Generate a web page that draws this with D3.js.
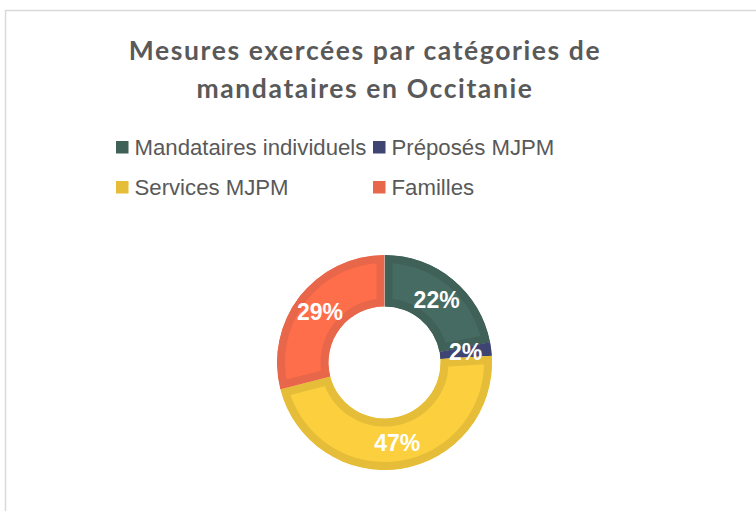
<!DOCTYPE html>
<html>
<head>
<meta charset="utf-8">
<script src="https://cdn.jsdelivr.net/npm/d3@7"></script>
<style>
  body { margin: 0; background: #fff; }
  svg { display: block; }
</style>
</head>
<body>
<div class="chart"></div>
<script>
const categories = ["Mandataires individuels", "Préposés MJPM", "Services MJPM", "Familles"]
const values = [22, 2, 47, 29]
const fillColors = ["#466b63", "#434a7a", "#fbcf3e", "#ff6e4a"]
const edgeColors = ["#3f6157", "#3f4573", "#e5bd38", "#e8674a"]
const titleLines = ["Mesures exercées par catégories de", "mandataires en Occitanie"]

const w = 756
const h = 511
const cx = 384.5
const cy = 362.5
const outerR = 107.5
const innerR = 56

const svg = d3.select(".chart").append("svg").attr("width", w).attr("height", h)

// chart frame (goes off the right and bottom edges)
svg.append("path")
  .attr("d", `M5.5,${h + 5}V10.5H${w + 5}`)
  .attr("fill", "none")
  .attr("stroke", "#d9d9d9")
  .attr("stroke-width", 1.5)

svg.append("g").selectAll("text")
  .data(titleLines)
  .enter()
  .append("text")
  .attr("x", 365)
  .attr("y", (d, i) => 60 + i * 38)
  .attr("text-anchor", "middle")
  .attr("font-family", "Lato, 'Open Sans', sans-serif")
  .attr("font-weight", "bold")
  .attr("font-size", 26.5)
  .attr("letter-spacing", 1.6)
  .attr("fill", "#595959")
  .text(d => d)

// legend, two columns
const legendX = [116, 373]
const legendY = [147, 187]
const legend = svg.append("g").selectAll("g")
  .data(categories)
  .enter()
  .append("g")
  .attr("transform", (d, i) => `translate(${legendX[i % 2]},${legendY[Math.floor(i / 2)]})`)

legend.append("rect")
  .attr("x", 0).attr("y", -6)
  .attr("width", 12.5).attr("height", 12.5)
  .attr("fill", (d, i) => edgeColors[i])

legend.append("text")
  .attr("x", 18.5)
  .attr("dy", "0.35em")
  .attr("font-family", "'Liberation Sans', Arial, sans-serif")
  .attr("font-size", 22.2)
  .attr("fill", "#595959")
  .text(d => d)

const pie = d3.pie().sort(null).value(d => d)
const arc = d3.arc().innerRadius(innerR).outerRadius(outerR)
const arcs = pie(values)

const donut = svg.append("g").attr("transform", `translate(${cx},${cy})`)
const defs = svg.append("defs")

defs.selectAll("clipPath")
  .data(arcs)
  .enter()
  .append("clipPath")
  .attr("id", (d, i) => "slice" + i)
  .append("path")
  .attr("d", arc)

donut.selectAll("path")
  .data(arcs)
  .enter()
  .append("path")
  .attr("d", arc)
  .attr("fill", (d, i) => fillColors[i])
  .attr("stroke", (d, i) => edgeColors[i])
  .attr("stroke-width", 16)
  .attr("clip-path", (d, i) => `url(#slice${i})`)

const labelArc = d3.arc().innerRadius((innerR + outerR) / 2).outerRadius((innerR + outerR) / 2)

donut.selectAll("text")
  .data(arcs)
  .enter()
  .append("text")
  .attr("transform", d => `translate(${labelArc.centroid(d)})`)
  .attr("text-anchor", "middle")
  .attr("dy", "0.35em")
  .attr("font-family", "'Liberation Sans', Arial, sans-serif")
  .attr("font-weight", "bold")
  .attr("font-size", 23)
  .attr("fill", "#fff")
  .text(d => d.data + "%")
</script>
</body>
</html>
